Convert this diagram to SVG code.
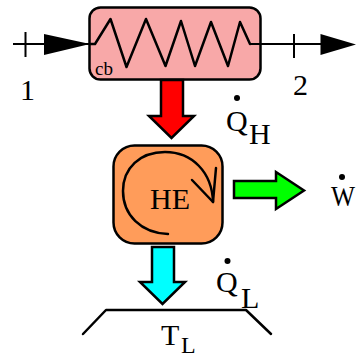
<svg xmlns="http://www.w3.org/2000/svg" width="356" height="356" viewBox="0 0 356 356">
<style>
text{font-family:"Liberation Serif","Times New Roman",serif;fill:#000;font-size:30px}
.l{fill:none;stroke:#000;stroke-width:2}
.t{fill:none;stroke:#000;stroke-width:2.5;stroke-linejoin:round;stroke-linecap:round}
.a{stroke:#000;stroke-width:2.5}
</style>
<g id="cb">
<rect x="89.500" y="7.500" width="171" height="72" rx="11" fill="#f8a8a8" stroke="#000" stroke-width="2.500"/>
<path class="t" d="M90 44H95L110.500 19L126.500 67L146 19L165.500 66L181 21L195 66L211 22L228 66L240 22L250 44"/>
<text x="95" y="75" style="font-size:19px">cb</text>
</g>
<g id="connectors">
<path class="l" d="M13 44H90M250 44H325M25.500 32V57M294 34V58"/>
<path d="M44 34L90 44L44 55Z"/>
<path d="M320.500 34L356 44.500L320.500 55Z"/>
<path id="qh" class="a" fill="#f00" d="M161 80H183V116H194L171.500 138L149 116H161Z"/>
<path id="w" class="a" fill="#0f0" d="M234 181H276V172L304 190.500L276 209V198H234Z"/>
<path id="ql" class="a" fill="#0ff" d="M152 247H174V282H185L162.500 304L140 282H152Z"/>
</g>
<g id="he">
<rect x="113.500" y="145.500" width="109" height="98" rx="21" fill="#ff9c5a" stroke="#000" stroke-width="2.500"/>
<path class="t" d="M168 234C141 233 123 215 123 191C123 168 140 152 165 152C192 152 212 172 213 202"/>
<path class="t" d="M192 180L213 202L216 168"/>
<text x="150" y="209">HE</text>
</g>
<g id="sink">
<path class="t" d="M83 334L106 310H246L271 334"/>
<text x="161" y="345">T</text>
<text x="181" y="353" style="font-size:24px">L</text>
</g>
<g id="labels">
<text x="20" y="100">1</text>
<text x="293" y="95">2</text>
<circle cx="237" cy="98" r="3"/>
<text x="226" y="131">Q</text>
<text x="249" y="144">H</text>
<circle cx="227.500" cy="261" r="3"/>
<text x="216" y="292">Q</text>
<text x="241" y="308">L</text>
<circle cx="342" cy="177" r="3"/>
<text x="331" y="206" textLength="24" lengthAdjust="spacingAndGlyphs">W</text>
</g>
</svg>
